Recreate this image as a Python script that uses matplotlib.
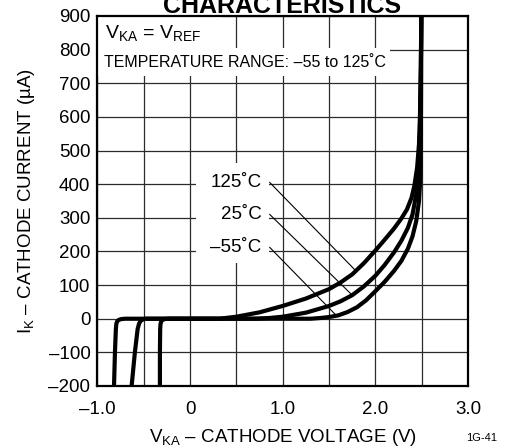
import matplotlib
matplotlib.use('Agg')
import matplotlib.pyplot as plt
from matplotlib.patches import Rectangle

plt.rcParams['font.family'] = ['Liberation Sans', 'DejaVu Sans']
plt.rcParams['mathtext.fontset'] = 'custom'
plt.rcParams['mathtext.rm'] = 'Liberation Sans'
plt.rcParams['mathtext.it'] = 'Liberation Sans:italic'

# curves: cathode voltage (V) vs cathode current (uA)
v_125 = [-0.325, -0.325, -0.322, -0.318, -0.31, -0.295, -0.27, -0.24, 0.0, 0.32,
         0.5, 0.75, 1.0, 1.25, 1.5, 1.625, 1.75, 1.875, 2.0, 2.1, 2.2, 2.28,
         2.34, 2.39, 2.42, 2.45, 2.47, 2.48, 2.49, 2.495]
i_125 = [-200, -100, -30, -15, -7, -3, -1, 0, 0, 0,
         6, 19, 38, 60, 88, 108, 132, 165, 203, 235, 268, 298,
         325, 360, 395, 450, 520, 600, 750, 900]

v_25 = [-0.63, -0.595, -0.565, -0.55, -0.535, -0.515, -0.495, -0.475, 0.0, 0.7,
        0.85, 1.0, 1.25, 1.5, 1.625, 1.75, 1.875, 2.0, 2.1, 2.2, 2.28, 2.35,
        2.4, 2.44, 2.465, 2.48, 2.49, 2.495]
i_25 = [-200, -100, -30, -15, -7, -3, -1, 0, 0, 0,
        2, 6, 18, 38, 52, 70, 96, 128, 160, 197, 232, 270,
        310, 370, 440, 550, 750, 900]

v_m55 = [-0.82, -0.81, -0.80, -0.795, -0.785, -0.765, -0.74, -0.70, 0.0, 1.3,
         1.4, 1.5, 1.6, 1.7, 1.8, 1.9, 2.0, 2.1, 2.2, 2.28, 2.35, 2.4,
         2.44, 2.47, 2.485, 2.49, 2.495]
i_m55 = [-200, -100, -30, -15, -7, -3, -1, 0, 0, 0,
         2, 5, 10, 20, 34, 55, 82, 110, 142, 172, 208, 245,
         290, 350, 420, 550, 900]

temp_labels = ['125˚C', '25˚C', '–55˚C']
label_y = [405, 310, 212]
leader_tips = [(1.79, 142), (1.75, 70), (1.58, 9)]

x_major = [-1, 0, 1, 2, 3]
x_major_labels = ['–1.0', '0', '1.0', '2.0', '3.0']
x_minor = [-0.5, 0.5, 1.5, 2.5]
y_ticks = [-200, -100, 0, 100, 200, 300, 400, 500, 600, 700, 800, 900]
y_labels = ['–200', '–100', '0', '100', '200', '300', '400', '500', '600', '700', '800', '900']

fig = plt.figure(figsize=(5.15, 4.48), dpi=100)
ax = fig.add_axes([0.189, 0.1384, 0.720, 0.8259])

ax.set_xlim(-1, 3)
ax.set_ylim(-200, 900)
ax.set_xticks(x_major)
ax.set_xticklabels(x_major_labels)
ax.set_xticks(x_minor, minor=True)
ax.set_yticks(y_ticks)
ax.set_yticklabels(y_labels)
ax.tick_params(axis='both', which='both', length=0, labelsize=13.5)
ax.tick_params(axis='x', pad=11)
ax.tick_params(axis='y', pad=5)
ax.set_axisbelow(True)
ax.grid(True, which='both', color='#2b2b2b', lw=0.9)
for s in ax.spines.values():
    s.set_linewidth(1.6)

# white patches behind the text blocks (they cut the grid)
ax.add_patch(Rectangle((-1, 805), 1.34, 95, fc='white', ec='none', zorder=1))
ax.add_patch(Rectangle((-1, 722), 3.16, 83, fc='white', ec='none', zorder=1))
ax.add_patch(Rectangle((0.065, 166), 0.79, 298, fc='white', ec='none', zorder=1))

for v, i in [(v_125, i_125), (v_25, i_25), (v_m55, i_m55)]:
    ax.plot(v, i, color='black', lw=3.0, solid_capstyle='round',
            solid_joinstyle='round', zorder=3)

for lab, y, tip in zip(temp_labels, label_y, leader_tips):
    ax.text(0.77, y, lab, ha='right', va='center', fontsize=13.5, zorder=4)
    ax.plot([0.86, tip[0]], [y, tip[1]], color='black', lw=0.8, zorder=2)

ax.text(-0.92, 848, r'V$_{\mathrm{KA}}$ = V$_{\mathrm{REF}}$', ha='left', va='center',
        fontsize=14, zorder=4)
ax.text(-0.93, 762, 'TEMPERATURE RANGE: –55 to 125˚C', ha='left', va='center',
        fontsize=11.5, zorder=4)

ax.set_xlabel(r'V$_{\mathrm{KA}}$ – CATHODE VOLTAGE (V)', fontsize=13.5, labelpad=6)
ax.set_ylabel(r'I$_{\mathrm{K}}$ – CATHODE CURRENT (µA)', fontsize=13.5, labelpad=8)

fig.text(0.548, 0.971, 'CHARACTERISTICS', ha='center', va='baseline',
         fontsize=18, fontweight='bold')
fig.text(0.935, 0.022, '1G-41', ha='center', va='center', fontsize=8)

fig.savefig('out.png', dpi=100)
